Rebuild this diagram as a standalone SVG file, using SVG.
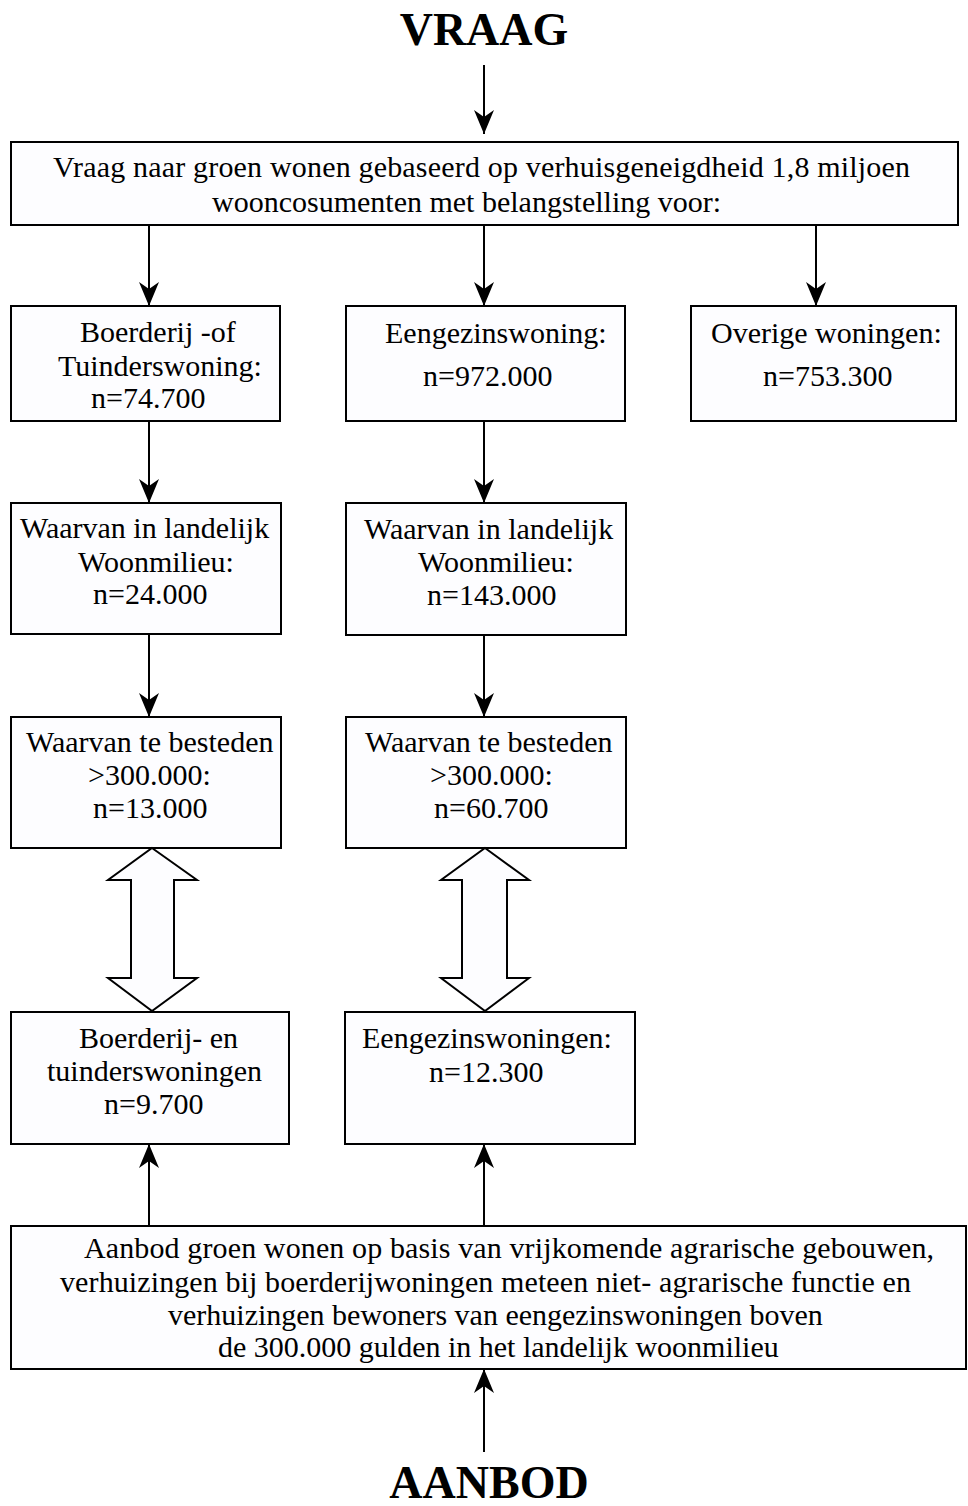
<svg xmlns="http://www.w3.org/2000/svg" width="968" height="1506" viewBox="0 0 968 1506">
<style>
  .box { fill: #fdfdff; stroke: #000; stroke-width: 2; }
  .t { font-family: "Liberation Serif", "Times New Roman", serif; font-size: 30px; fill: #000; }
  .title { font-family: "Liberation Serif", "Times New Roman", serif; font-size: 46px; font-weight: bold; fill: #000; }
  .conn { stroke: #000; stroke-width: 2; fill: none; marker-end: url(#ah); }
  .dbl { fill: #fdfdff; stroke: #000; stroke-width: 2; stroke-linejoin: miter; }
</style>
<defs>
  <marker id="ah" viewBox="0 0 24 20" refX="24" refY="10" markerWidth="24" markerHeight="20" markerUnits="userSpaceOnUse" orient="auto">
    <path d="M0,0 L24,10 L0,20 L7,10 Z" fill="#000"/>
  </marker>
</defs>
<rect width="968" height="1506" fill="#ffffff"/>

<g id="title-vraag">
  <text class="title" x="484" y="45" text-anchor="middle">VRAAG</text>
</g>

<g id="vraag-box">
  <rect class="box" x="11" y="142" width="947" height="83"/>
  <text class="t" x="53" y="177" textLength="857" lengthAdjust="spacing">Vraag naar groen wonen gebaseerd op verhuisgeneigdheid 1,8 miljoen</text>
  <text class="t" x="212" y="212">wooncosumenten met belangstelling voor:</text>
</g>

<g id="boerderij">
  <rect class="box" x="11" y="306" width="269" height="115"/>
  <text class="t" x="80" y="342">Boerderij -of</text>
  <text class="t" x="58" y="376">Tuinderswoning:</text>
  <text class="t" x="91" y="408">n=74.700</text>
</g>

<g id="eengezins">
  <rect class="box" x="346" y="306" width="279" height="115"/>
  <text class="t" x="385" y="343">Eengezinswoning:</text>
  <text class="t" x="423" y="386">n=972.000</text>
</g>

<g id="overige">
  <rect class="box" x="691" y="306" width="265" height="115"/>
  <text class="t" x="711" y="343">Overige woningen:</text>
  <text class="t" x="763" y="386">n=753.300</text>
</g>

<g id="landelijk-a">
  <rect class="box" x="11" y="503" width="270" height="131"/>
  <text class="t" x="20" y="538">Waarvan in landelijk</text>
  <text class="t" x="78" y="572">Woonmilieu:</text>
  <text class="t" x="93" y="604">n=24.000</text>
</g>

<g id="landelijk-b">
  <rect class="box" x="346" y="503" width="280" height="132"/>
  <text class="t" x="364" y="539">Waarvan in landelijk</text>
  <text class="t" x="418" y="572">Woonmilieu:</text>
  <text class="t" x="427" y="605">n=143.000</text>
</g>

<g id="besteden-a">
  <rect class="box" x="11" y="717" width="270" height="131"/>
  <text class="t" x="26" y="752">Waarvan te besteden</text>
  <text class="t" x="88" y="785">&gt;300.000:</text>
  <text class="t" x="93" y="818">n=13.000</text>
</g>

<g id="besteden-b">
  <rect class="box" x="346" y="717" width="280" height="131"/>
  <text class="t" x="365" y="752">Waarvan te besteden</text>
  <text class="t" x="430" y="785">&gt;300.000:</text>
  <text class="t" x="434" y="818">n=60.700</text>
</g>

<g id="aanbod-boerderij">
  <rect class="box" x="11" y="1012" width="278" height="132"/>
  <text class="t" x="79" y="1048">Boerderij- en</text>
  <text class="t" x="47" y="1081">tuinderswoningen</text>
  <text class="t" x="104" y="1114">n=9.700</text>
</g>

<g id="aanbod-eengezins">
  <rect class="box" x="345" y="1012" width="290" height="132"/>
  <text class="t" x="362" y="1048">Eengezinswoningen:</text>
  <text class="t" x="429" y="1082">n=12.300</text>
</g>

<g id="aanbod-box">
  <rect class="box" x="11" y="1226" width="955" height="143"/>
  <text class="t" x="84" y="1258" textLength="850" lengthAdjust="spacing">Aanbod groen wonen op basis van vrijkomende agrarische gebouwen,</text>
  <text class="t" x="60" y="1292" textLength="851" lengthAdjust="spacing">verhuizingen bij boerderijwoningen meteen niet- agrarische functie en</text>
  <text class="t" x="168" y="1325">verhuizingen bewoners van eengezinswoningen boven</text>
  <text class="t" x="218" y="1357">de 300.000 gulden in het landelijk woonmilieu</text>
</g>

<g id="title-aanbod">
  <text class="title" x="489" y="1498" text-anchor="middle">AANBOD</text>
</g>

<g id="connectors">
  <line class="conn" x1="484" y1="65" x2="484" y2="134"/>
  <line class="conn" x1="149" y1="225" x2="149" y2="306"/>
  <line class="conn" x1="484" y1="225" x2="484" y2="306"/>
  <line class="conn" x1="816" y1="225" x2="816" y2="306"/>
  <line class="conn" x1="149" y1="421" x2="149" y2="503"/>
  <line class="conn" x1="484" y1="421" x2="484" y2="503"/>
  <line class="conn" x1="149" y1="634" x2="149" y2="717"/>
  <line class="conn" x1="484" y1="635" x2="484" y2="717"/>
  <line class="conn" x1="149" y1="1226" x2="149" y2="1144"/>
  <line class="conn" x1="484" y1="1226" x2="484" y2="1144"/>
  <line class="conn" x1="484" y1="1452" x2="484" y2="1369"/>
  <polygon class="dbl" points="152,848 197,880 174,880 174,978 197,978 152,1011 108,978 131,978 131,880 108,880"/>
  <polygon class="dbl" points="485,848 529,880 507,880 507,978 529,978 485,1011 441,978 462,978 462,880 441,880"/>
</g>
</svg>
